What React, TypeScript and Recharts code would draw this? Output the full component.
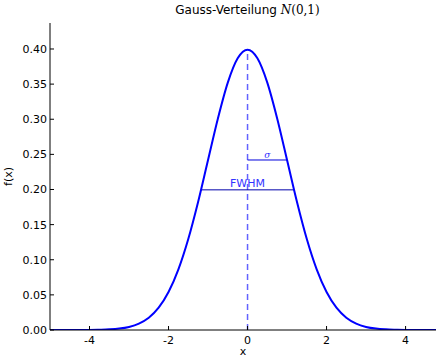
import React from 'react';
import { LineChart, Line, XAxis, YAxis, ReferenceLine } from 'recharts';

const xValues = [-5, -4.75, -4.5, -4.25, -4, -3.75, -3.5, -3.25, -3, -2.75, -2.5, -2.25, -2, -1.75, -1.5, -1.25, -1, -0.75, -0.5, -0.25, 0, 0.25, 0.5, 0.75, 1, 1.25, 1.5, 1.75, 2, 2.25, 2.5, 2.75, 3, 3.25, 3.5, 3.75, 4, 4.25, 4.5, 4.75, 5];
const fValues = [0, 0, 0, 0.0001, 0.0001, 0.0004, 0.0009, 0.002, 0.0044, 0.0091, 0.0175, 0.0317, 0.054, 0.0863, 0.1295, 0.1826, 0.242, 0.3011, 0.3521, 0.3867, 0.3989, 0.3867, 0.3521, 0.3011, 0.242, 0.1826, 0.1295, 0.0863, 0.054, 0.0317, 0.0175, 0.0091, 0.0044, 0.002, 0.0009, 0.0004, 0.0001, 0.0001, 0, 0, 0];
const xTicks = [-4, -2, 0, 2, 4];
const yTicks = [0, 0.05, 0.1, 0.15, 0.2, 0.25, 0.3, 0.35, 0.4];
const peak = 0.3989;
const sigma = 1;
const halfWidth = 1.1774;
const halfMax = 0.1995;

const data = xValues.map((x, i) => ({ x, f: fValues[i] }));

const FONT = 'DejaVu Sans, sans-serif';

const BottomTick = (props: any) => {
  const { x, y, payload } = props;
  return (
    <g>
      <line x1={x} y1={y} x2={x} y2={y - 4} stroke="#000" strokeWidth={1} />
      <text x={x} y={y + 13.5} textAnchor="middle" fontSize={11} fontFamily={FONT} fill="#000">
        {payload.value}
      </text>
    </g>
  );
};

const TopTick = (props: any) => {
  const { x, y } = props;
  return <line x1={x} y1={y} x2={x} y2={y + 4} stroke="#000" strokeWidth={1} />;
};

const LeftTick = (props: any) => {
  const { x, y, payload } = props;
  return (
    <g>
      <line x1={x} y1={y} x2={x + 4} y2={y} stroke="#000" strokeWidth={1} />
      <text x={x - 3} y={y + 4} textAnchor="end" fontSize={11} fontFamily={FONT} fill="#000">
        {Number(payload.value).toFixed(2)}
      </text>
    </g>
  );
};

export default function App() {
  return (
    <div style={{ position: 'absolute', left: 0, top: 0, width: 436, height: 358, overflow: 'hidden', background: '#fff' }}>
      <div
        style={{
          position: 'absolute',
          left: 247.5,
          top: 2,
          transform: 'translateX(-50%)',
          whiteSpace: 'nowrap',
          fontFamily: FONT,
          fontSize: 12,
          lineHeight: '16px',
        }}
      >
        Gauss-Verteilung{' '}
        <span style={{ fontFamily: 'DejaVu Serif, serif', fontStyle: 'italic' }}>N</span>
        <span style={{ fontFamily: 'DejaVu Serif, serif' }}>(0,1)</span>
      </div>
      <LineChart width={436} height={358} data={data} margin={{ top: 23, right: 0, bottom: 0, left: 0 }}>
        <XAxis
          dataKey="x"
          type="number"
          domain={[-5, 4.77]}
          allowDataOverflow
          ticks={xTicks}
          tickSize={0}
          tickMargin={0}
          tickLine={false}
          tick={<BottomTick />}
          axisLine={{ stroke: '#000', strokeWidth: 1 }}
          height={28}
          label={{ value: 'x', position: 'insideBottom', offset: 3, fontSize: 11, fontFamily: FONT, fill: '#000' }}
        />
        <XAxis
          xAxisId="top"
          dataKey="x"
          type="number"
          orientation="top"
          domain={[-5, 4.77]}
          allowDataOverflow
          ticks={xTicks}
          tickSize={0}
          tickMargin={0}
          tickLine={false}
          tick={<TopTick />}
          axisLine={{ stroke: '#000', strokeWidth: 1 }}
          height={0}
        />
        <YAxis
          type="number"
          domain={[0, 0.437]}
          allowDataOverflow
          ticks={yTicks}
          tickSize={0}
          tickMargin={0}
          tickLine={false}
          tick={<LeftTick />}
          axisLine={{ stroke: '#000', strokeWidth: 1 }}
          width={50}
          label={{ value: 'f(x)', angle: -90, position: 'insideLeft', offset: 8, fontSize: 11, fontFamily: FONT, fill: '#000', style: { textAnchor: 'middle' } }}
        />
        <ReferenceLine
          segment={[{ x: 0, y: 0 }, { x: 0, y: peak }]}
          stroke="#6262ff"
          strokeWidth={1.5}
          strokeDasharray="6 4"
          ifOverflow="extendDomain"
        />
        <ReferenceLine
          segment={[{ x: 0, y: fValues[24] }, { x: sigma, y: fValues[24] }]}
          stroke="#0000dd"
          strokeWidth={1}
          label={{ value: 'σ', position: 'top', offset: 2, fontSize: 9, fontStyle: 'italic', fontFamily: 'DejaVu Serif, serif', fill: '#3333ff' }}
        />
        <ReferenceLine
          segment={[{ x: -halfWidth, y: halfMax }, { x: halfWidth, y: halfMax }]}
          stroke="#0000aa"
          strokeWidth={1}
          label={{ value: 'FWHM', position: 'top', offset: 3, fontSize: 11, fontFamily: FONT, fill: '#3333ff' }}
        />
        <Line
          type="monotone"
          dataKey="f"
          stroke="#0000ff"
          strokeWidth={2}
          dot={false}
          activeDot={false}
          isAnimationActive={false}
        />
      </LineChart>
    </div>
  );
}
